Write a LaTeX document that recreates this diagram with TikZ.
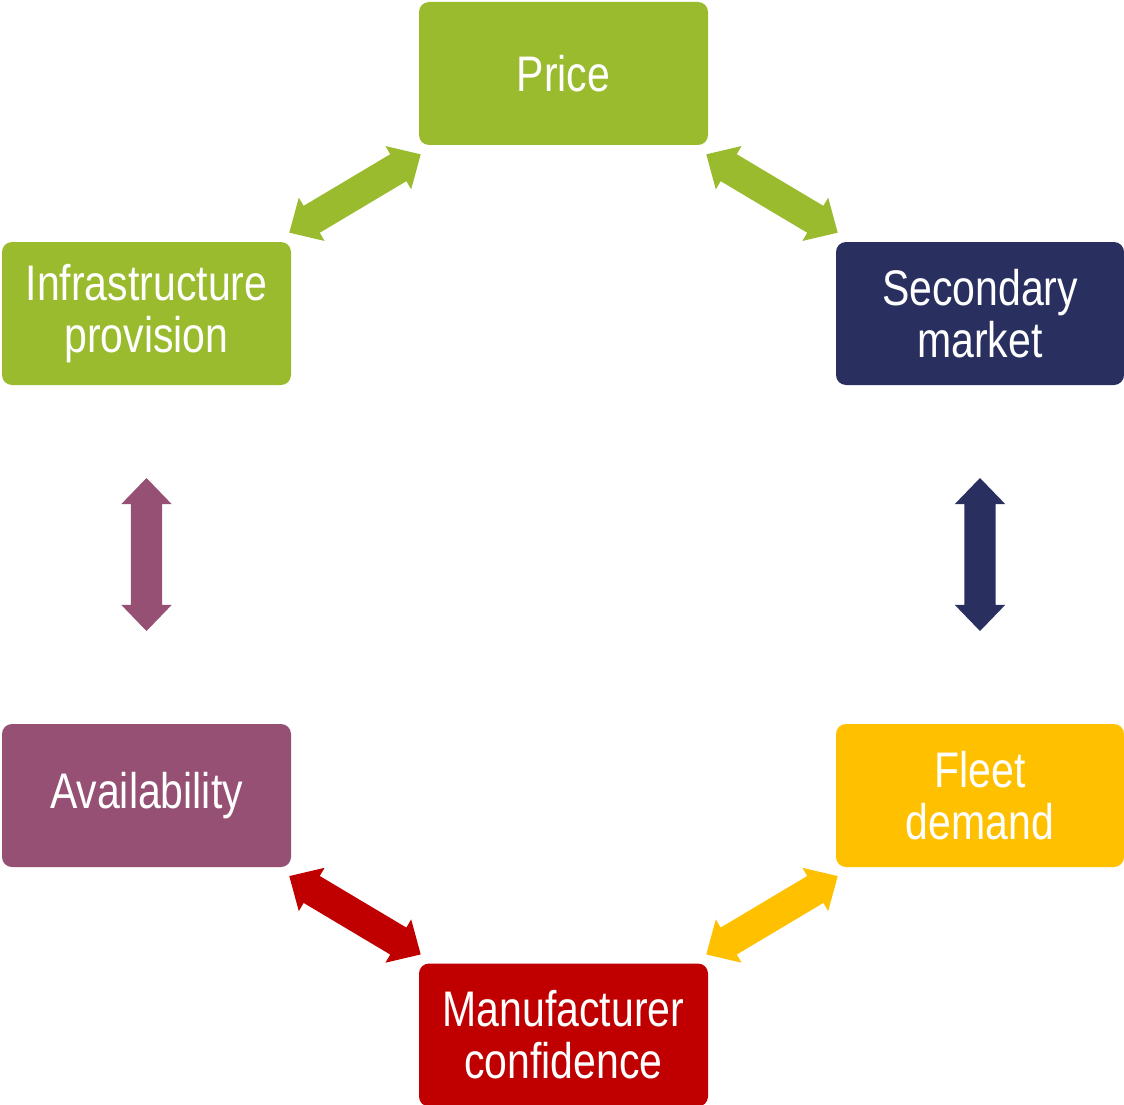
\documentclass[tikz,border=0pt]{standalone}
\usepackage{fontspec}
\usetikzlibrary{shapes.arrows,calc}
\newfontfamily\boxfont{Liberation Sans}[FakeStretch=0.82]

\definecolor{cgreen}{HTML}{9BBB2F}
\definecolor{cnavy}{HTML}{29305F}
\definecolor{cplum}{HTML}{955073}
\definecolor{cgold}{HTML}{FFC000}
\definecolor{cred}{HTML}{C00000}

\tikzset{
  box/.style={rounded corners=10pt, minimum width=289pt, minimum height=143pt,
    inner sep=0pt, align=center, text=white,
    font=\boxfont\fontsize{50}{52}\selectfont},
  dblarrow/.style={double arrow, minimum height=153pt,
    inner xsep=0pt, inner ysep=15.5pt,
    double arrow head extend=9.5pt, double arrow tip angle=88}
}

\begin{document}
\begin{tikzpicture}[x=1pt,y=-1pt]
  \useasboundingbox (0,0) rectangle (1124,1105);

  % cycle of six factors
  \node[box, fill=cgreen] (price)  at (563.5,73.5)  {Price};
  \node[box, fill=cgreen] (infra)  at (146.5,313.5) {Infrastructure\\provision};
  \node[box, fill=cnavy, minimum width=288pt] (second) at (980,313.5) {Secondary\\market};
  \node[box, fill=cplum]  (avail)  at (146.5,795.5) {Availability};
  \node[box, fill=cgold, minimum width=288pt] (fleet)  at (980,795.5) {Fleet\\demand};
  \node[box, fill=cred]   (manuf)  at (563.5,1035)  {Manufacturer\\confidence};

  % two-way links between neighbours
  \node[dblarrow, fill=cgreen, rotate=30.8]  (a1) at ($(infra.north east)!0.5!(price.south west)$) {};
  \node[dblarrow, fill=cgreen, rotate=-30.8] (a2) at ($(price.south east)!0.5!(second.north west)$) {};
  \node[dblarrow, fill=cnavy, rotate=90]     (a3) at ($(second.south)!0.5!(fleet.north)$) {};
  \node[dblarrow, fill=cgold, rotate=30.8]   (a4) at ($(manuf.north east)!0.5!(fleet.south west)$) {};
  \node[dblarrow, fill=cred, rotate=-30.8]   (a5) at ($(avail.south east)!0.5!(manuf.north west)$) {};
  \node[dblarrow, fill=cplum, rotate=90]     (a6) at ($(infra.south)!0.5!(avail.north)$) {};
\end{tikzpicture}
\end{document}
